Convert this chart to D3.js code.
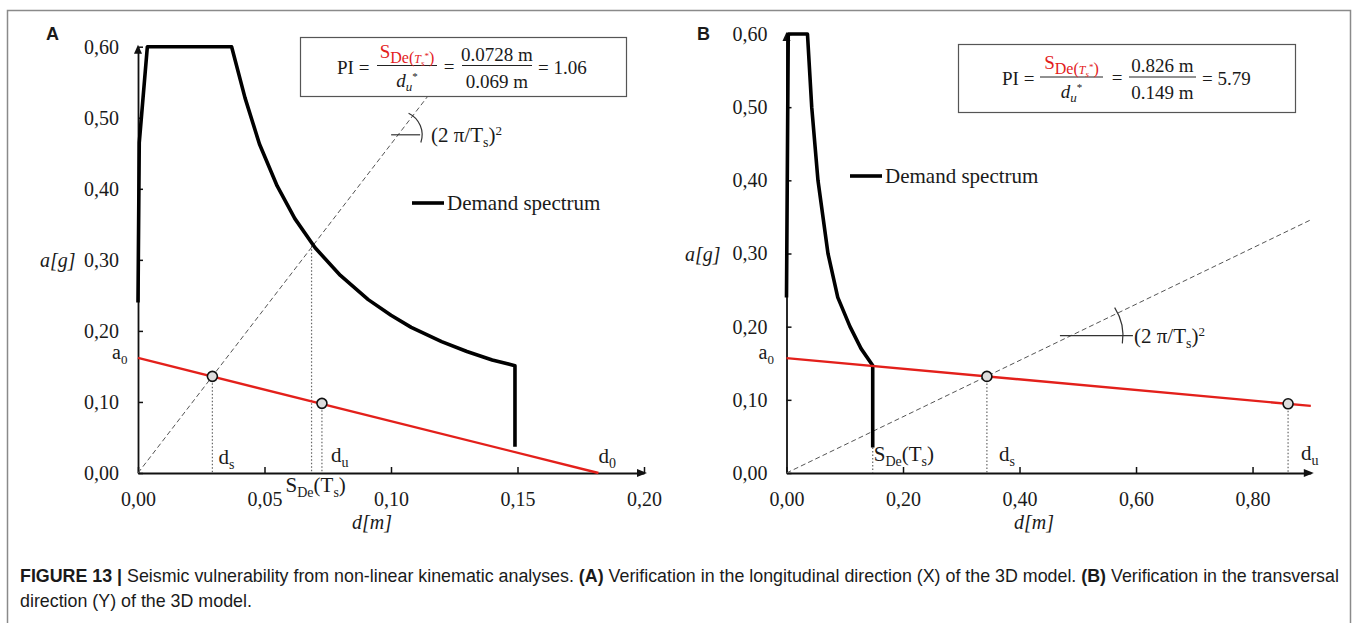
<!DOCTYPE html>
<html>
<head>
<meta charset="utf-8">
<script src="https://cdn.jsdelivr.net/npm/d3@7/dist/d3.min.js"></script>
<style>
  body { margin: 0; background: #fff; }
  svg text { font-family: "Liberation Serif", "Times New Roman", serif; fill: #1a1a1a; }
  .cap text, text.cap { font-family: "Liberation Sans", Arial, sans-serif; }
</style>
</head>
<body>
<svg id="canvas" width="1357" height="623"></svg>
<script>
"use strict"

// ---- panel A : longitudinal direction (X)
const aTicksX = [0, 0.05, 0.10, 0.15, 0.20]
const aTicksY = [0, 0.10, 0.20, 0.30, 0.40, 0.50, 0.60]
const aDemandD = [0, 0.0005, 0.0037, 0.037, 0.0423, 0.048, 0.055, 0.062, 0.070, 0.080, 0.091, 0.100, 0.108, 0.120, 0.130, 0.140, 0.149, 0.149]
const aDemandA = [0.24, 0.465, 0.60, 0.60, 0.528, 0.463, 0.404, 0.358, 0.317, 0.278, 0.244, 0.222, 0.205, 0.185, 0.171, 0.159, 0.151, 0.037]
const aCapD = [0, 0.182]          // capacity line a0 -> d0
const aCapA = [0.162, 0]
const aPeriodD = [0, 0.1147]      // (2 pi / Ts)^2 line
const aPeriodA = [0, 0.531]
const aPtD = [0.0294, 0.0727]     // ds, du
const aPtA = [0.136, 0.098]
const aSde = [0.0686, 0.320]      // demand at Ts
const aPI = ["0.0728 m", "0.069 m", "= 1.06"]

// ---- panel B : transversal direction (Y)
const bTicksX = [0, 0.20, 0.40, 0.60, 0.80]
const bTicksY = [0, 0.10, 0.20, 0.30, 0.40, 0.50, 0.60]
const bDemandD = [0, 0.003, 0.036, 0.0433, 0.054, 0.0712, 0.088, 0.109, 0.128, 0.148, 0.148]
const bDemandA = [0.24, 0.60, 0.60, 0.50, 0.40, 0.30, 0.24, 0.20, 0.17, 0.147, 0.035]
const bCapD = [0, 0.90]
const bCapA = [0.157, 0.0917]
const bPeriodD = [0, 0.90]
const bPeriodA = [0, 0.346]
const bPtD = [0.344, 0.861]
const bPtA = [0.132, 0.0946]
const bSde = [0.148, 0.035]
const bPI = ["0.826 m", "0.149 m", "= 5.79"]

const RED = "#e3201b"
const fmt = v => d3.format(".2f")(v).replace(".", ",")
const svg = d3.select("#canvas")

// outer frame
svg.append("rect").attr("x", 7.5).attr("y", 10.5).attr("width", 1343).attr("height", 650)
  .attr("fill", "none").attr("stroke", "#8a8a8a").attr("stroke-width", 1.5)

// text with subscripts: parts = [[text, size, dy, italic, color]]
function rich(g, x, y, parts, anchor) {
  const t = g.append("text").attr("x", x).attr("y", y).attr("text-anchor", anchor || "start")
  parts.forEach(p => {
    const s = t.append("tspan").text(p[0]).attr("font-size", p[1])
    if (p[2]) s.attr("dy", p[2])
    if (p[3]) s.attr("font-style", "italic")
    if (p[4]) s.attr("fill", p[4])
  })
  return t
}

function panel(o) {
  const g = svg.append("g")
  const x = d3.scaleLinear().domain(o.xDom).range(o.xRange)
  const y = d3.scaleLinear().domain([0, 0.6]).range(o.yRange)
  const line = d3.line().x(d => x(d[0])).y(d => y(d[1]))

  // axes
  const ax = g.append("g").attr("transform", `translate(0,${y(0)})`)
    .call(d3.axisBottom(x).tickValues(o.ticksX).tickSize(-6).tickSizeOuter(0).tickPadding(19).tickFormat(fmt))
  const ay = g.append("g").attr("transform", `translate(${x(0)},0)`)
    .call(d3.axisLeft(y).tickValues(o.ticksY).tickSize(-5).tickSizeOuter(0).tickPadding(19).tickFormat(fmt))
  ;[ax, ay].forEach(a => {
    a.attr("font-family", null).attr("font-size", 20)
    a.select(".domain").attr("stroke", "#111").attr("stroke-width", 1.8)
    a.selectAll(".tick line").attr("stroke", "#111").attr("stroke-width", 1.5)
    a.selectAll(".tick text").attr("fill", "#222")
  })
  const xe = x(o.xDom[1]), ye = y(0.6)
  g.append("path").attr("d", `M${xe + 3},${y(0)} l-10,-4 l0,8 z`).attr("fill", "#111")
  g.append("path").attr("d", `M${x(0)},${ye - 2} l-4,9 l8,0 z`).attr("fill", "#111")

  // axis titles
  g.append("text").attr("x", o.agX).attr("y", y(0.3) + 7).attr("font-size", 20)
    .attr("font-style", "italic").text("a[g]")
  g.append("text").attr("x", o.dmX).attr("y", 529).attr("font-size", 20)
    .attr("font-style", "italic").attr("text-anchor", "middle").text("d[m]")

  // period line and dotted verticals
  g.append("path").attr("d", line(d3.zip(o.periodD, o.periodA)))
    .attr("fill", "none").attr("stroke", "#555").attr("stroke-width", 1).attr("stroke-dasharray", "5,3")
  const drops = [[o.ptD[0], o.ptA[0]], [o.ptD[1], o.ptA[1]], o.sde]
  g.selectAll(".drop").data(drops).enter().append("line")
    .attr("x1", d => x(d[0])).attr("x2", d => x(d[0]))
    .attr("y1", d => y(d[1])).attr("y2", y(0))
    .attr("stroke", "#666").attr("stroke-width", 1.2).attr("stroke-dasharray", "1.5,2")

  // demand spectrum
  g.append("path").attr("d", line(d3.zip(o.demD, o.demA)))
    .attr("fill", "none").attr("stroke", "#000").attr("stroke-width", 3.6).attr("stroke-linejoin", "round")

  // capacity line
  g.append("path").attr("d", line(d3.zip(o.capD, o.capA)))
    .attr("fill", "none").attr("stroke", RED).attr("stroke-width", 2.4)

  g.selectAll(".pt").data(d3.zip(o.ptD, o.ptA)).enter().append("circle")
    .attr("cx", d => x(d[0])).attr("cy", d => y(d[1])).attr("r", 5)
    .attr("fill", "#ddd").attr("stroke", "#111").attr("stroke-width", 1.6)

  // point labels
  const fs = 21, sf = 14
  rich(g, x(0) - o.a0dx, y(o.capA[0]) + 1, [["a", 20], ["0", 13, 5]])
  rich(g, x(o.ptD[0]) + o.dsdx, o.dsy, [["d", fs], ["s", sf, 5]])
  rich(g, x(o.ptD[1]) + o.dudx, o.duy, [["d", fs], ["u", sf, 5]])
  rich(g, x(o.sde[0]) + o.sdx, o.sdy, [["S", fs], ["De", sf, 5], ["(T", fs, -5], ["s", sf, 5], [")", fs, -5]])
  if (o.d0) rich(g, x(o.capD[1]), o.d0y, [["d", fs], ["0", sf, 5]])

  // slope angle symbol
  const aY = y(o.angA), aX = x(o.angA * o.periodD[1] / o.periodA[1])
  g.append("line").attr("x1", aX - o.angL).attr("x2", aX + o.angR).attr("y1", aY).attr("y2", aY)
    .attr("stroke", "#333").attr("stroke-width", 1.2)
  const arc = d3.arc().innerRadius(o.angRad).outerRadius(o.angRad).startAngle(o.angA0).endAngle(o.angA1)
  g.append("path").attr("transform", `translate(${aX},${aY})`).attr("d", arc())
    .attr("fill", "none").attr("stroke", "#333").attr("stroke-width", 1.2)
  rich(g, o.angTx, aY + 7, [["(2 π/T", fs], ["s", sf, 5], [")", fs, -5], ["2", 13, -7]])

  // legend
  g.append("line").attr("x1", o.legX).attr("x2", o.legX + 32).attr("y1", o.legY).attr("y2", o.legY)
    .attr("stroke", "#000").attr("stroke-width", 3.6)
  g.append("text").attr("x", o.legX + 35).attr("y", o.legY + 7).attr("font-size", 21).text("Demand spectrum")

  // panel letter
  g.append("text").attr("class", "cap").attr("x", o.letX).attr("y", 40).attr("font-size", 18)
    .attr("font-weight", "bold").attr("fill", "#000").text(o.letter)

  // PI box
  const b = o.box
  g.append("rect").attr("x", b.x + 0.5).attr("y", b.y + 0.5).attr("width", b.w).attr("height", b.h)
    .attr("fill", "#fff").attr("stroke", "#555").attr("stroke-width", 1.2)
  const mid = b.y + b.h / 2, f = 19
  g.append("text").attr("x", b.x + b.pi).attr("y", mid + 7).attr("font-size", f).text("PI =")
  g.append("line").attr("x1", b.x + b.f1[0]).attr("x2", b.x + b.f1[1]).attr("y1", mid - 1).attr("y2", mid - 1)
    .attr("stroke", "#222").attr("stroke-width", 1)
  const c1 = b.x + (b.f1[0] + b.f1[1]) / 2
  rich(g, c1, mid - 9, [["S", f, 0, false, RED], ["De(", 16, 5, false, RED], ["T", 12, 0, true, RED],
    ["s", 9, 3, true, RED], ["*", 9, -7, false, RED], [")", 16, 4, false, RED]], "middle")
  rich(g, c1, mid + 20, [["d", f, 0, true], ["u", 13, 4, true], ["*", 11, -11]], "middle")
  g.append("text").attr("x", b.x + b.eq).attr("y", mid + 6).attr("font-size", f).attr("text-anchor", "middle").text("=")
  g.append("line").attr("x1", b.x + b.f2[0]).attr("x2", b.x + b.f2[1]).attr("y1", mid - 1).attr("y2", mid - 1)
    .attr("stroke", "#222").attr("stroke-width", 1)
  const c2 = b.x + (b.f2[0] + b.f2[1]) / 2
  g.append("text").attr("x", c2).attr("y", mid - 6).attr("font-size", f).attr("text-anchor", "middle")
    .attr("fill", RED).text(o.pi[0])
  g.append("text").attr("x", c2).attr("y", mid + 21).attr("font-size", f).attr("text-anchor", "middle").text(o.pi[1])
  g.append("text").attr("x", b.x + b.f2[1] + 6).attr("y", mid + 7).attr("font-size", f).text(o.pi[2])
}

panel({
  letter: "A", letX: 46,
  xDom: [0, 0.2], xRange: [138, 644], yRange: [473, 46.7],
  ticksX: aTicksX, ticksY: aTicksY,
  demD: aDemandD, demA: aDemandA, capD: aCapD, capA: aCapA,
  periodD: aPeriodD, periodA: aPeriodA, ptD: aPtD, ptA: aPtA, sde: aSde, pi: aPI,
  agX: 40, dmX: 372,
  a0dx: 26, dsdx: 6, dsy: 464, dudx: 9, duy: 462, sdx: -26, sdy: 492, d0: true, d0y: 463,
  angA: 0.476, angL: 7, angR: 22, angRad: 24, angA0: 0.45, angA1: 1.9, angTx: 431,
  legX: 412, legY: 203,
  box: { x: 300, y: 37, w: 326, h: 59, pi: 37, f1: [77, 137], eq: 149, f2: [162, 232] }
})

panel({
  letter: "B", letX: 697,
  xDom: [0, 0.9], xRange: [786.5, 1310.8], yRange: [473, 34],
  ticksX: bTicksX, ticksY: bTicksY,
  demD: bDemandD, demA: bDemandA, capD: bCapD, capA: bCapA,
  periodD: bPeriodD, periodA: bPeriodA, ptD: bPtD, ptA: bPtA, sde: bSde, pi: bPI,
  agX: 685, dmX: 1034,
  a0dx: 28, dsdx: 12, dsy: 461, dudx: 13, duy: 460, sdx: 1, sdy: 461, d0: false,
  angA: 0.1877, angL: 11, angR: 62, angRad: 52, angA0: 1.0, angA1: 1.72, angTx: 1134,
  legX: 850, legY: 176,
  box: { x: 958, y: 44, w: 337, h: 68, pi: 44, f1: [82, 145], eq: 159, f2: [171, 238] }
})

// caption
const cap = svg.append("g").attr("class", "cap")
const l1 = cap.append("text").attr("x", 20).attr("y", 582).attr("font-size", 16).attr("fill", "#222")
l1.append("tspan").attr("font-weight", "bold").text("FIGURE 13 | ")
l1.append("tspan").text("Seismic vulnerability from non-linear kinematic analyses. ")
l1.append("tspan").attr("font-weight", "bold").text("(A)")
l1.append("tspan").text(" Verification in the longitudinal direction (X) of the 3D model. ")
l1.append("tspan").attr("font-weight", "bold").text("(B)")
l1.append("tspan").text(" Verification in the transversal")
const capFs = 16 * 1320 / l1.node().getComputedTextLength()
l1.attr("font-size", capFs)
cap.append("text").attr("x", 20).attr("y", 607).attr("font-size", capFs).attr("fill", "#222")
  .text("direction (Y) of the 3D model.")
</script>
</body>
</html>
